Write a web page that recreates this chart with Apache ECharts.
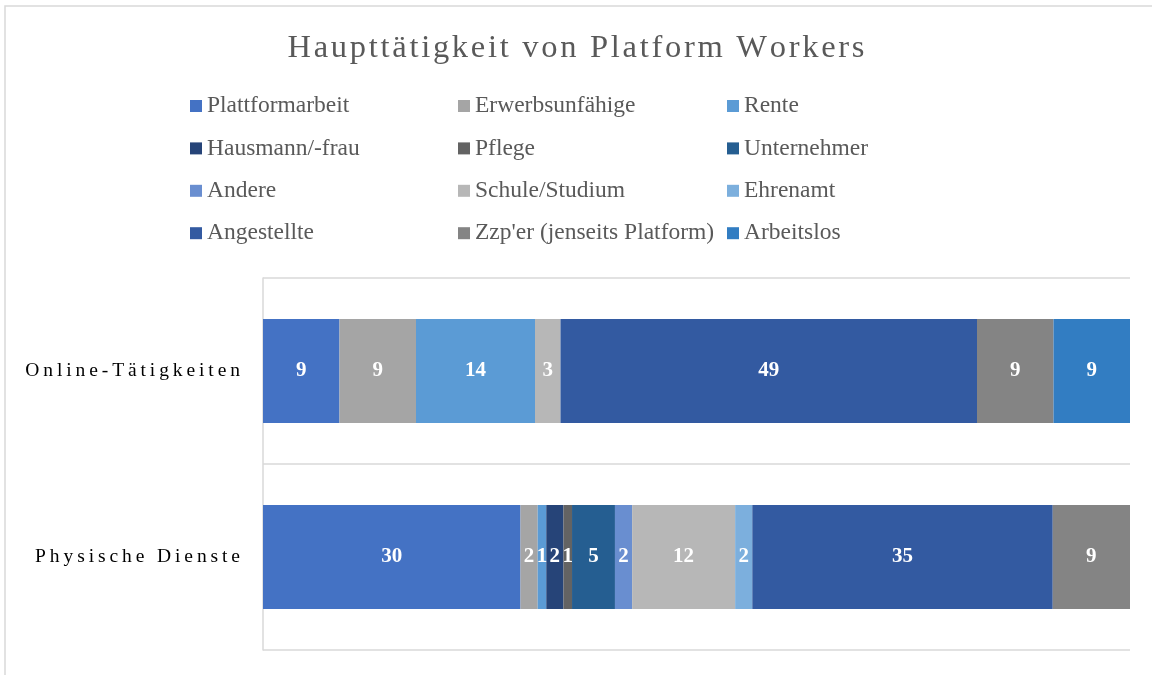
<!DOCTYPE html>
<html>
<head>
<meta charset="utf-8">
<script src="https://cdn.jsdelivr.net/npm/echarts@6/dist/echarts.min.js"></script>
</head>
<body style="margin:0;background:#fff">
<div id="main" style="width:1152px;height:675px;"></div>
<script>
// Kategorien (von oben nach unten)
var categories = ['Online-Tätigkeiten', 'Physische Dienste'];

// Werte je Tätigkeit: [Online, Physisch]
var plattformarbeit = [9, 30];
var erwerbsunfaehige = [9, 2];
var rente = [14, 1];
var hausmann = [0, 2];
var pflege = [0, 1];
var unternehmer = [0, 5];
var andere = [0, 2];
var schule = [3, 12];
var ehrenamt = [0, 2];
var angestellte = [49, 35];
var zzper = [9, 9];
var arbeitslos = [9, 0];

var names = ['Plattformarbeit', 'Erwerbsunfähige', 'Rente', 'Hausmann/-frau', 'Pflege', 'Unternehmer',
             'Andere', 'Schule/Studium', 'Ehrenamt', 'Angestellte', "Zzp'er (jenseits Platform)", 'Arbeitslos'];
var values = [plattformarbeit, erwerbsunfaehige, rente, hausmann, pflege, unternehmer,
              andere, schule, ehrenamt, angestellte, zzper, arbeitslos];
var colors = ['#4472c4', '#a5a5a5', '#5b9bd5', '#264478', '#636363', '#255e91',
              '#698ed0', '#b7b7b7', '#7cafdd', '#335aa1', '#848484', '#327dc2'];

// Summen je Kategorie -> 100%-gestapelt
var totals = categories.map(function (c, i) {
    return values.reduce(function (s, arr) { return s + arr[i]; }, 0);
});

// Buchstaben sperren (wie im Original)
function spaced(s, sep) { return s.split('').join(sep || '\u2009'); }

var font = '"Liberation Serif", "Times New Roman", serif';

var series = names.map(function (n, k) {
    return {
        name: n,
        type: 'bar',
        stack: 'total',
        barWidth: 104,
        itemStyle: { color: colors[k] },
        label: {
            show: true,
            color: '#fff',
            fontFamily: font,
            fontWeight: 'bold',
            fontSize: 21,
            formatter: function (p) {
                var v = values[k][p.dataIndex];
                return v ? String(v) : '';
            }
        },
        data: values[k].map(function (v, i) { return v / totals[i] * 100; })
    };
});

function legendCol(left, items) {
    return {
        orient: 'vertical',
        left: left,
        top: 89,
        itemWidth: 12,
        itemHeight: 12,
        itemGap: 18.4,
        icon: 'rect',
        textStyle: { fontFamily: font, fontSize: 23.5, color: '#595959', lineHeight: 22 },
        data: items
    };
}

var myChart = echarts.init(document.getElementById('main'));

var option = {
    animation: false,
    backgroundColor: '#fff',
    title: {
        text: spaced('Haupttätigkeit von Platform Workers', '\u200A'),
        left: 'center',
        top: 27,
        textStyle: { fontFamily: font, fontSize: 32.5, fontWeight: 'normal', color: '#595959' }
    },
    legend: [
        legendCol(185, [names[0], names[3], names[6], names[9]]),
        legendCol(453, [names[1], names[4], names[7], names[10]]),
        legendCol(722, [names[2], names[5], names[8], names[11]])
    ],
    graphic: [{
        type: 'rect',
        shape: { x: 5, y: 6, width: 1200, height: 720 },
        style: { fill: 'none', stroke: '#d9d9d9', lineWidth: 1.5 },
        silent: true
    }],
    grid: { left: 263, right: 22, top: 278, bottom: 25 },
    xAxis: {
        type: 'value',
        min: 0,
        max: 100,
        show: false
    },
    yAxis: {
        type: 'category',
        inverse: true,
        data: categories,
        axisLine: { show: true, lineStyle: { color: '#d9d9d9', width: 1.5 } },
        axisTick: { show: false },
        splitLine: { show: true, lineStyle: { color: '#d9d9d9', width: 1.5 } },
        axisLabel: {
            margin: 23,
            color: '#000',
            fontFamily: font,
            fontSize: 19.5,
            formatter: function (v) { return spaced(v); }
        }
    },
    series: series
};

myChart.setOption(option);
</script>
</body>
</html>
